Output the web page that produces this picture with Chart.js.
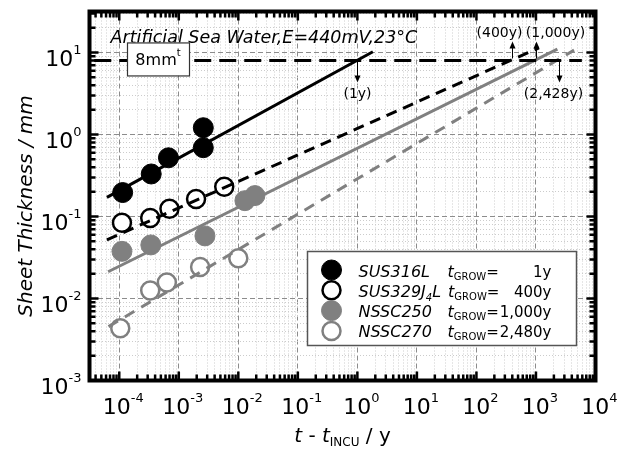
<!DOCTYPE html>
<html lang="en">
<head>
<meta charset="UTF-8">
<title>Sheet Thickness</title>
<script src="https://cdn.jsdelivr.net/npm/chart.js@4.4.1/dist/chart.umd.min.js"></script>
<style>
  html, body { margin: 0; padding: 0; background: #fff; }
  canvas { display: block; }
</style>
</head>
<body>
<canvas id="cChart" width="623" height="457"></canvas>
<script>
// measured points: t - t_INCU (y), sheet thickness (mm)
const sus316L_t = [1.14e-4, 3.44e-4, 6.7e-4, 2.58e-3, 2.58e-3];
const sus316L_h = [0.196, 0.33, 0.52, 0.69, 1.21];
const sus329_t = [1.11e-4, 3.31e-4, 6.97e-4, 1.95e-3, 5.8e-3];
const sus329_h = [0.084, 0.096, 0.124, 0.163, 0.23];
const nssc250_t = [1.11e-4, 3.39e-4, 2.75e-3, 1.29e-2, 1.9e-2];
const nssc250_h = [0.0376, 0.045, 0.058, 0.156, 0.18];
const nssc270_t = [1.04e-4, 3.31e-4, 6.3e-4, 2.28e-3, 1.0e-2];
const nssc270_h = [0.00434, 0.0125, 0.0157, 0.0242, 0.031];

// fitted lines (end points)
const fit316L_t = [6.2e-5, 1.82];
const fit316L_h = [0.171, 10.2];
const fit329_t = [6.2e-5, 1122];
const fit329_h = [0.0519, 11.4];
const fit250_t = [6.5e-5, 2290];
const fit250_h = [0.0212, 11.0];
const fit270_t = [6.6e-5, 4365];
const fit270_h = [0.00454, 10.7];

// 8 mm sheet limit
const limit_t = [3.8e-5, 5900];
const limit_h = [8, 8];

const xExponents = [-4, -3, -2, -1, 0, 1, 2, 3, 4];
const yExponents = [-3, -2, -1, 0, 1];

const materials = ['SUS316L', 'SUS329J_4L', 'NSSC250', 'NSSC270'];
const growTimes = ['1y', '400y', '1,000y', '2,480y'];
const notes = [['(1y)', 1], ['(400y)', 400], ['(1,000y)', 1000], ['(2,428y)', 2428]];

const GRAY = '#808080';
const FONT = '"DejaVu Sans", Verdana, sans-serif';
const fnt = (size, it) => (it ? 'italic ' : '') + size + 'px ' + FONT;
const pts = (ts, hs) => ts.map((t, i) => ({ x: t, y: hs[i] }));

function logTicks(lo, hi) {
  const out = [];
  for (let e = Math.floor(Math.log10(lo)); e <= Math.ceil(Math.log10(hi)); e++) {
    for (let m = 1; m <= 9; m++) {
      const v = m * Math.pow(10, e);
      if (v >= lo * 0.999 && v <= hi * 1.001) out.push({ value: v, major: m === 1 });
    }
  }
  return out;
}

// draw a row of text pieces: {s, size, it, dy}
function runs(ctx, list, x, y, align) {
  let w = 0;
  list.forEach(r => { ctx.font = fnt(r.size, r.it); w += ctx.measureText(r.s).width; });
  let cx = align === 'center' ? x - w / 2 : align === 'right' ? x - w : x;
  ctx.textAlign = 'left';
  ctx.textBaseline = 'alphabetic';
  list.forEach(r => {
    ctx.font = fnt(r.size, r.it);
    ctx.fillText(r.s, cx, y + (r.dy || 0));
    cx += ctx.measureText(r.s).width;
  });
  return cx;
}

const pow10 = e => [{ s: '10', size: 22 }, { s: String(e), size: 13, dy: -12 }];

function arrow(ctx, x, y0, y1) {
  const d = y1 > y0 ? 1 : -1;
  ctx.beginPath();
  ctx.moveTo(x, y0);
  ctx.lineTo(x, y1 - d * 5);
  ctx.stroke();
  ctx.beginPath();
  ctx.moveTo(x, y1);
  ctx.lineTo(x - 3, y1 - d * 7);
  ctx.lineTo(x + 3, y1 - d * 7);
  ctx.closePath();
  ctx.fill();
}

const decor = {
  id: 'decor',
  afterDatasetsDraw(chart) {
    const { ctx, chartArea: a, scales: { x, y } } = chart;
    ctx.save();
    ctx.fillStyle = '#000';

    // heading
    runs(ctx, [{ s: 'Artificial Sea Water,E=440mV,23°C', size: 17.5, it: true }], a.left + 21, a.top + 31);

    // 8mm box
    const y8 = y.getPixelForValue(8);
    ctx.fillStyle = '#fff';
    ctx.fillRect(127, y8 - 18, 62, 33);
    ctx.strokeStyle = '#333';
    ctx.lineWidth = 1.2;
    ctx.strokeRect(127.5, y8 - 17.5, 62, 33);
    ctx.fillStyle = '#000';
    runs(ctx, [{ s: '8mm', size: 16 }, { s: 't', size: 10, dy: -9 }], 158, y8 + 5, 'center');

    // lifetime arrows
    ctx.strokeStyle = '#000';
    ctx.lineWidth = 1;
    const tx = [0, -13, 19, -6];
    notes.forEach(([label, t], i) => {
      const px = Math.round(x.getPixelForValue(t)) + 0.5;
      const down = i === 0 || i === 3;
      if (down) {
        arrow(ctx, px, y8, y8 + 22);
        runs(ctx, [{ s: label, size: 14 }], px + tx[i], y8 + 38, 'center');
      } else {
        arrow(ctx, px, y8 - 2, y8 - 19);
        runs(ctx, [{ s: label, size: 14 }], px + tx[i], y8 - 23, 'center');
      }
    });

    // legend
    const L = a.right - 288, T = a.bottom - 129, W = 269, H = 94;
    ctx.fillStyle = '#fff';
    ctx.fillRect(L, T, W, H);
    ctx.strokeStyle = '#555';
    ctx.lineWidth = 1.5;
    ctx.strokeRect(L, T, W, H);
    materials.forEach((name, i) => {
      const ds = chart.data.datasets[5 + i];
      const base = T + 25 + i * 20.3;
      ctx.beginPath();
      ctx.arc(L + 24, base - 6.5, ds.pointRadius, 0, Math.PI * 2);
      ctx.fillStyle = ds.pointBackgroundColor;
      ctx.fill();
      ctx.lineWidth = ds.pointBorderWidth;
      ctx.strokeStyle = ds.pointBorderColor;
      ctx.stroke();
      ctx.fillStyle = '#000';
      const parts = name.split('_');
      const list = [{ s: parts[0], size: 16, it: true }];
      if (parts[1]) {
        list.push({ s: parts[1][0], size: 10, it: true, dy: 4 });
        list.push({ s: parts[1].slice(1), size: 16, it: true });
      }
      const end = runs(ctx, list, L + 51, base);
      const tStart = Math.max(L + 140, end + 7);
      const eqEnd = runs(ctx, [{ s: 't', size: 16, it: true }, { s: 'GROW', size: 10, dy: 3 }, { s: '=', size: 15 }], tStart, base);
      ctx.font = fnt(15);
      const vw = ctx.measureText(growTimes[i]).width;
      runs(ctx, [{ s: growTimes[i], size: 15 }], Math.max(L + 244 - vw, eqEnd), base);
    });
    ctx.restore();
  },
  afterDraw(chart) {
    const { ctx, chartArea: a, scales: { x, y } } = chart;
    ctx.save();
    ctx.strokeStyle = '#000';
    ctx.fillStyle = '#000';

    // inward tick marks on all four sides
    ctx.lineWidth = 2.5;
    ctx.beginPath();
    x.ticks.forEach(tk => {
      const px = x.getPixelForValue(tk.value), len = tk.major ? 9 : 6;
      ctx.moveTo(px, a.bottom); ctx.lineTo(px, a.bottom - len);
      ctx.moveTo(px, a.top); ctx.lineTo(px, a.top + len);
    });
    y.ticks.forEach(tk => {
      const py = y.getPixelForValue(tk.value), len = tk.major ? 9 : 6;
      ctx.moveTo(a.left, py); ctx.lineTo(a.left + len, py);
      ctx.moveTo(a.right, py); ctx.lineTo(a.right - len, py);
    });
    ctx.stroke();

    // frame
    ctx.lineWidth = 4;
    ctx.strokeRect(a.left, a.top, a.right - a.left, a.bottom - a.top);

    // tick labels
    xExponents.forEach(e => {
      runs(ctx, pow10(e), x.getPixelForValue(Math.pow(10, e)) + 4, a.bottom + 33.5, 'center');
    });
    yExponents.forEach(e => {
      runs(ctx, pow10(e), a.left - 8, y.getPixelForValue(Math.pow(10, e)) + 13, 'right');
    });

    // axis titles
    runs(ctx, [
      { s: 't', size: 20, it: true }, { s: ' - ', size: 20 }, { s: 't', size: 20, it: true },
      { s: 'INCU', size: 12, dy: 4 }, { s: ' / y', size: 20 }
    ], (a.left + a.right) / 2, 442, 'center');
    ctx.translate(32, 206);
    ctx.rotate(-Math.PI / 2);
    runs(ctx, [{ s: 'Sheet Thickness / mm', size: 20, it: true }], 0, 0, 'center');
    ctx.restore();
  }
};

const lineSet = (ts, hs, color, dash) => ({
  data: pts(ts, hs), showLine: true, order: 1,
  borderColor: color, borderWidth: 3, borderDash: dash,
  pointRadius: 0, pointHoverRadius: 0
});
const markSet = (label, ts, hs, fill, stroke, r, bw) => ({
  label, data: pts(ts, hs), showLine: false, order: 2,
  pointRadius: r, pointHoverRadius: r,
  pointBackgroundColor: fill, pointBorderColor: stroke, pointBorderWidth: bw
});

const config = {
  type: 'scatter',
  data: {
    datasets: [
      lineSet(limit_t, limit_h, '#000', [17, 8]),
      lineSet(fit316L_t, fit316L_h, '#000', []),
      lineSet(fit329_t, fit329_h, '#000', [11, 7]),
      lineSet(fit250_t, fit250_h, GRAY, []),
      lineSet(fit270_t, fit270_h, GRAY, [11, 8]),
      markSet('SUS316L', sus316L_t, sus316L_h, '#000', '#000', 10, 1),
      markSet('SUS329J4L', sus329_t, sus329_h, '#fff', '#000', 9, 2.5),
      markSet('NSSC250', nssc250_t, nssc250_h, GRAY, GRAY, 10, 1),
      markSet('NSSC270', nssc270_t, nssc270_h, '#fff', GRAY, 9, 2.5)
    ]
  },
  options: {
    responsive: false,
    animation: false,
    events: [],
    layout: { padding: { left: 89.5, right: 27.5, top: 6, bottom: 76.5 } },
    plugins: { legend: { display: false }, tooltip: { enabled: false } },
    scales: {
      x: {
        type: 'logarithmic',
        min: Math.pow(10, -4.5),
        max: 1e4,
        afterBuildTicks: s => { s.ticks = logTicks(s.min, s.max); },
        ticks: { display: false },
        grid: {
          drawTicks: false,
          lineWidth: 1,
          color: c => (c.tick && c.tick.major ? '#8c8c8c' : '#cccccc')
        },
        border: { display: false, dash: c => (c.tick && c.tick.major ? [5, 3] : [1, 2]) }
      },
      y: {
        type: 'logarithmic',
        min: 1e-3,
        max: Math.pow(10, 1.5),
        afterBuildTicks: s => { s.ticks = logTicks(s.min, s.max); },
        ticks: { display: false },
        grid: {
          drawTicks: false,
          lineWidth: 1,
          color: c => (c.tick && c.tick.major ? '#8c8c8c' : '#cccccc')
        },
        border: { display: false, dash: c => (c.tick && c.tick.major ? [5, 3] : [1, 2]) }
      }
    }
  },
  plugins: [decor]
};

const cChart = new Chart(document.getElementById('cChart'), config);
</script>
</body>
</html>
